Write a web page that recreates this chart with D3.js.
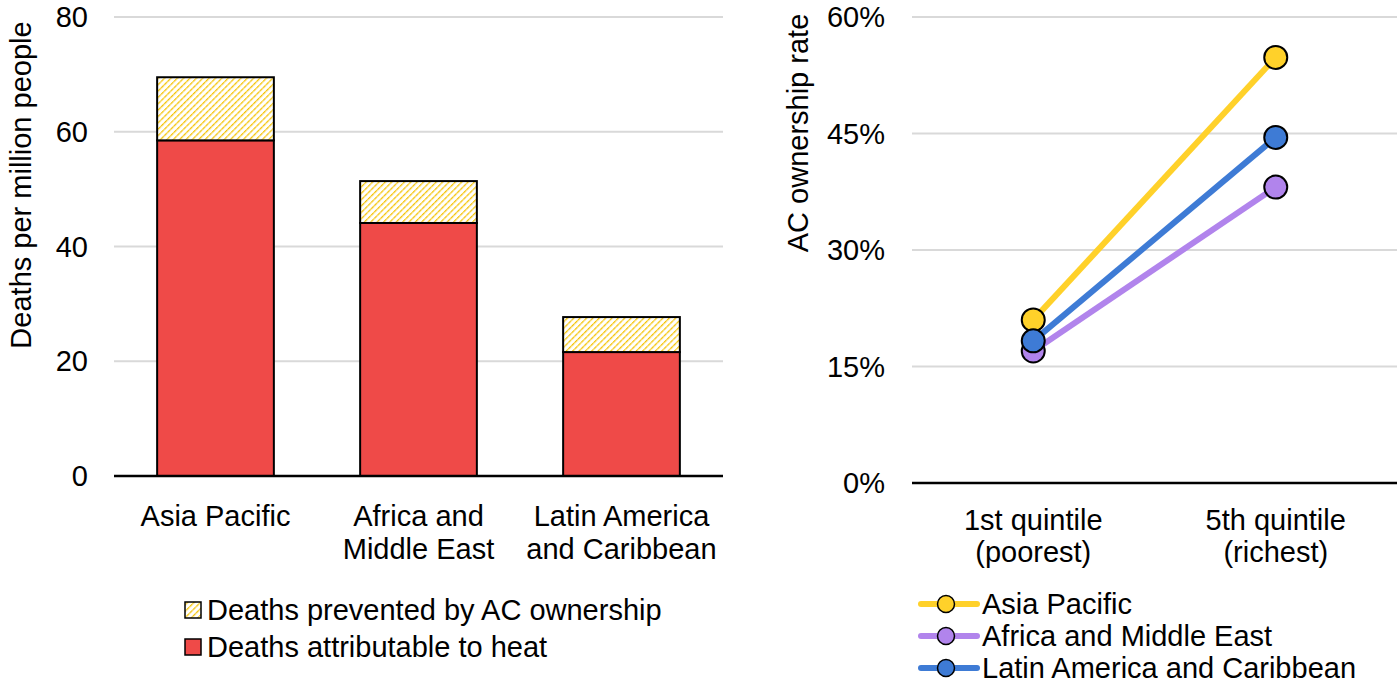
<!DOCTYPE html>
<html>
<head>
<meta charset="utf-8">
<script src="https://cdn.jsdelivr.net/npm/d3@7"></script>
<style>
  body { margin: 0; background: #fff; }
  svg { font-family: "Liberation Sans", Arial, sans-serif; }
</style>
</head>
<body>
<div id="chart"></div>
<script>
// Left chart data
const regions = ["Asia Pacific", "Africa and Middle East", "Latin America and Caribbean"];
const regionLabels = [["Asia Pacific"], ["Africa and", "Middle East"], ["Latin America", "and Caribbean"]];
const heatDeaths = [58.5, 44.1, 21.6];
const preventedDeaths = [11.0, 7.3, 6.1];
const deathTicks = [0, 20, 40, 60, 80];

// Right chart data
const quintiles = ["1st quintile", "5th quintile"];
const quintileLabels = [["1st quintile", "(poorest)"], ["5th quintile", "(richest)"]];
const acAsia = [0.21, 0.548];
const acAfrica = [0.17, 0.381];
const acLatin = [0.183, 0.445];
const acTicks = [0, 0.15, 0.30, 0.45, 0.60];

const colors = {
  heat: "#ef4a48",
  hatch: "#f5c200",
  asia: "#ffd12a",
  africa: "#b184ec",
  latin: "#3e7bd5"
};

const FS = 29;
const W = 1397, H = 683;
const svg = d3.select("#chart").append("svg").attr("width", W).attr("height", H);

// hatch pattern
const defs = svg.append("defs");
const pat = defs.append("pattern")
  .attr("id", "hatch").attr("patternUnits", "userSpaceOnUse")
  .attr("width", 4.5).attr("height", 4.5)
  .attr("patternTransform", "rotate(45)");
pat.append("rect").attr("width", 4.5).attr("height", 4.5).attr("fill", "#fff");
pat.append("line").attr("x1", 0).attr("y1", 0).attr("x2", 0).attr("y2", 4.5)
  .attr("stroke", colors.hatch).attr("stroke-width", 2.6).attr("stroke-dasharray", "2.5,0.5");

// ---------- Left: stacked bars ----------
const x1 = d3.scaleBand().domain(regions).range([114, 723]).paddingInner(0.425).paddingOuter(0.2125);
const y1 = d3.scaleLinear().domain([0, 80]).range([476, 17]);

const left = svg.append("g");
left.append("g").selectAll("line").data(deathTicks.filter(d => d > 0)).join("line")
  .attr("x1", 114).attr("x2", 723).attr("y1", d => y1(d)).attr("y2", d => y1(d))
  .attr("stroke", "#d9d9d9").attr("stroke-width", 2);

left.append("g").selectAll("text").data(deathTicks).join("text")
  .attr("x", 88).attr("y", d => y1(d)).attr("dy", "0.35em")
  .attr("text-anchor", "end").attr("font-size", FS).text(d => d);

left.append("text")
  .attr("transform", `translate(31,185) rotate(-90)`)
  .attr("text-anchor", "middle").attr("font-size", FS)
  .text("Deaths per million people");

regions.forEach((r, i) => {
  const bx = x1(r), bw = x1.bandwidth();
  left.append("rect")
    .attr("x", bx).attr("width", bw)
    .attr("y", y1(heatDeaths[i])).attr("height", y1(0) - y1(heatDeaths[i]))
    .attr("fill", colors.heat).attr("stroke", "#000").attr("stroke-width", 2);
  const top = heatDeaths[i] + preventedDeaths[i];
  left.append("rect")
    .attr("x", bx).attr("width", bw)
    .attr("y", y1(top)).attr("height", y1(heatDeaths[i]) - y1(top))
    .attr("fill", "url(#hatch)").attr("stroke", "#000").attr("stroke-width", 2);
});

left.append("line").attr("x1", 114).attr("x2", 723).attr("y1", y1(0)).attr("y2", y1(0))
  .attr("stroke", "#000").attr("stroke-width", 2.5);

regions.forEach((r, i) => {
  const t = left.append("text").attr("text-anchor", "middle").attr("font-size", FS)
    .attr("x", x1(r) + x1.bandwidth() / 2).attr("y", 526);
  regionLabels[i].forEach((s, j) => {
    t.append("tspan").attr("x", x1(r) + x1.bandwidth() / 2).attr("dy", j === 0 ? 0 : 33).text(s);
  });
});

// left legend
const legL = [
  { label: "Deaths prevented by AC ownership", fill: "url(#hatch)" },
  { label: "Deaths attributable to heat", fill: colors.heat }
];
legL.forEach((d, i) => {
  const cy = 610 + i * 37;
  left.append("rect").attr("x", 185).attr("y", cy - 8).attr("width", 16).attr("height", 16)
    .attr("fill", d.fill).attr("stroke", "#000").attr("stroke-width", 1.5);
  left.append("text").attr("x", 207).attr("y", cy).attr("dy", "0.35em")
    .attr("font-size", FS).text(d.label);
});

// ---------- Right: slope chart ----------
const x2 = d3.scaleBand().domain(quintiles).range([912, 1397]);
const y2 = d3.scaleLinear().domain([0, 0.6]).range([483, 17]);
const right = svg.append("g");

right.append("g").selectAll("line").data(acTicks.filter(d => d > 0)).join("line")
  .attr("x1", 912).attr("x2", 1397).attr("y1", d => y2(d)).attr("y2", d => y2(d))
  .attr("stroke", "#d9d9d9").attr("stroke-width", 2);

right.append("g").selectAll("text").data(acTicks).join("text")
  .attr("x", 885).attr("y", d => y2(d)).attr("dy", "0.35em")
  .attr("text-anchor", "end").attr("font-size", FS).text(d3.format(".0%"));

right.append("line").attr("x1", 912).attr("x2", 1397).attr("y1", y2(0)).attr("y2", y2(0))
  .attr("stroke", "#000").attr("stroke-width", 2.5);

right.append("text")
  .attr("transform", `translate(808,133) rotate(-90)`)
  .attr("text-anchor", "middle").attr("font-size", FS)
  .text("AC ownership rate");

const series = [
  { name: "Asia Pacific", values: acAsia, color: colors.asia },
  { name: "Africa and Middle East", values: acAfrica, color: colors.africa },
  { name: "Latin America and Caribbean", values: acLatin, color: colors.latin }
];
const cx = q => x2(q) + x2.bandwidth() / 2;
const line = d3.line().x((d, i) => cx(quintiles[i])).y(d => y2(d));

// drawing order: purple at the back, then yellow, blue on top
const drawOrder = [1, 0, 2];
drawOrder.forEach(k => {
  const s = series[k];
  right.append("path").datum(s.values).attr("d", line)
    .attr("fill", "none").attr("stroke", s.color).attr("stroke-width", 6);
});
drawOrder.forEach(k => {
  const s = series[k];
  right.append("g").selectAll("circle").data(s.values).join("circle")
    .attr("cx", (d, i) => cx(quintiles[i])).attr("cy", d => y2(d)).attr("r", 11.5)
    .attr("fill", s.color).attr("stroke", "#000").attr("stroke-width", 2);
});

quintiles.forEach((q, i) => {
  const t = right.append("text").attr("text-anchor", "middle").attr("font-size", FS)
    .attr("y", 530);
  quintileLabels[i].forEach((s, j) => {
    t.append("tspan").attr("x", cx(q)).attr("dy", j === 0 ? 0 : 32).text(s);
  });
});

// right legend
series.forEach((s, i) => {
  const cy = 604 + i * 32;
  right.append("line").attr("x1", 921).attr("x2", 977).attr("y1", cy).attr("y2", cy)
    .attr("stroke", s.color).attr("stroke-width", 6).attr("stroke-linecap", "round");
  right.append("circle").attr("cx", 946).attr("cy", cy).attr("r", 8.5)
    .attr("fill", s.color).attr("stroke", "#000").attr("stroke-width", 1.5);
  right.append("text").attr("x", 982).attr("y", cy).attr("dy", "0.35em")
    .attr("font-size", FS).text(s.name);
});
</script>
</body>
</html>
